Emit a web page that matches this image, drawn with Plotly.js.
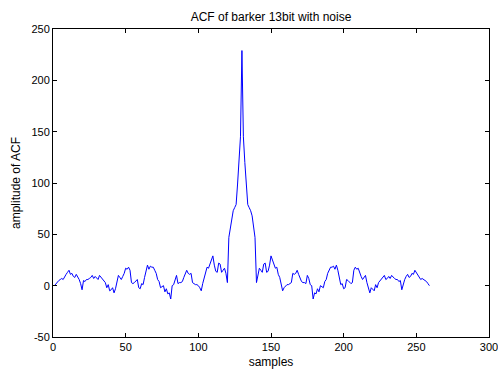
<!DOCTYPE html>
<html>
<head>
<meta charset="utf-8">
<script src="https://cdn.plot.ly/plotly-3.0.1.min.js"></script>
<style>html,body{margin:0;padding:0;background:#fff;}#chart{width:498px;height:369px;}</style>
</head>
<body>
<div id="chart"></div>
<script>
// ACF samples (x = 1..259)
const acfValues = [
  0, 2, 4, 5, 6, 7, 6, 9, 11, 13,
  15, 11, 12, 9, 8, 11, 9, 6, 2, -4,
  5, 4, 6, 6, 7, 8, 10, 7, 9, 7,
  6, 10, 8, 6, 5, 3, -2, 1, -5, -4,
  -2, -7, -3, 3, 10, 8, 6, 9, 12, 17,
  16, 18, 15, 3, 2, 3, 5, 6, -2, -3,
  2, 1, 8, 15, 20, 16, 19, 18, 18, 15,
  12, 6, 4, -2, -1, 0, -6, -3, -8, -7,
  -13, 0, 1, 7, 10, 2, 3, 3, 4, 8,
  11, 15, 12, 11, 12, 3, 2, 1, 1, 0,
  -2, -5, 2, 8, 11, 18, 17, 21, 25, 29,
  20, 14, 13, 22, 21, 13, 15, 17, 12, 3,
  47, 56, 68, 73, 76, 79, 99, 120, 145, 229,
  145, 120, 99, 79, 76, 73, 68, 56, 47, 3,
  12, 17, 15, 13, 21, 22, 13, 14, 20, 29,
  25, 21, 17, 18, 11, 8, 2, -5, -2, 0,
  1, 1, 2, 3, 12, 11, 12, 15, 11, 8,
  4, 3, 3, 2, 10, 7, 1, 0, -13, -7,
  -8, -3, -6, 0, -1, -2, 4, 6, 12, 15,
  18, 18, 19, 16, 20, 15, 8, 1, 2, -3,
  -2, 6, 5, 3, 2, 3, 15, 18, 16, 17,
  12, 9, 6, 8, 10, 3, -3, -7, -2, -4,
  -5, 1, -2, 3, 5, 6, 8, 10, 6, 7,
  9, 7, 10, 8, 7, 6, 6, 4, 5, -4,
  2, 6, 9, 11, 8, 9, 12, 11, 15, 13,
  11, 9, 6, 7, 6, 5, 4, 2, 0
];
const sampleIndex = acfValues.map((_, i) => i + 1);

const xTicks = [0, 50, 100, 150, 200, 250, 300];
const yTicks = [-50, 0, 50, 100, 150, 200, 250];

const trace = {
  x: sampleIndex,
  y: acfValues,
  type: 'scatter',
  mode: 'lines',
  line: {color: '#0000ff', width: 1},
  hoverinfo: 'skip'
};

const axisCommon = {
  showgrid: false,
  zeroline: false,
  showline: true,
  linecolor: '#000',
  linewidth: 1,
  mirror: 'ticks',
  ticks: 'inside',
  ticklen: 4,
  tickcolor: '#000',
  ticklabeloverflow: 'allow',
  tickfont: {family: 'Liberation Sans, Arial, sans-serif', size: 11, color: '#000'}
};

const layout = {
  width: 498,
  height: 369,
  margin: {l: 53, r: 9, t: 29, b: 32},
  paper_bgcolor: '#fff',
  plot_bgcolor: '#fff',
  showlegend: false,
  font: {family: 'Liberation Sans, Arial, sans-serif', size: 11, color: '#000'},
  title: {
    text: 'ACF of barker 13bit with noise',
    font: {family: 'Liberation Sans, Arial, sans-serif', size: 12, color: '#000'},
    xref: 'paper', x: 0.5, xanchor: 'center',
    yref: 'container', y: 0.955, yanchor: 'middle'
  },
  xaxis: Object.assign({}, axisCommon, {
    range: [0, 300],
    tickvals: xTicks,
    ticktext: xTicks.map(String),
    title: {text: 'samples', font: {family: 'Liberation Sans, Arial, sans-serif', size: 12, color: '#000'}, standoff: 5}
  }),
  yaxis: Object.assign({}, axisCommon, {
    range: [-50, 250],
    tickvals: yTicks,
    ticktext: yTicks.map(String),
    title: {text: 'amplitude of ACF', font: {family: 'Liberation Sans, Arial, sans-serif', size: 12, color: '#000'}, standoff: 8}
  })
};

Plotly.newPlot('chart', [trace], layout, {staticPlot: true, displayModeBar: false});
</script>
</body>
</html>
